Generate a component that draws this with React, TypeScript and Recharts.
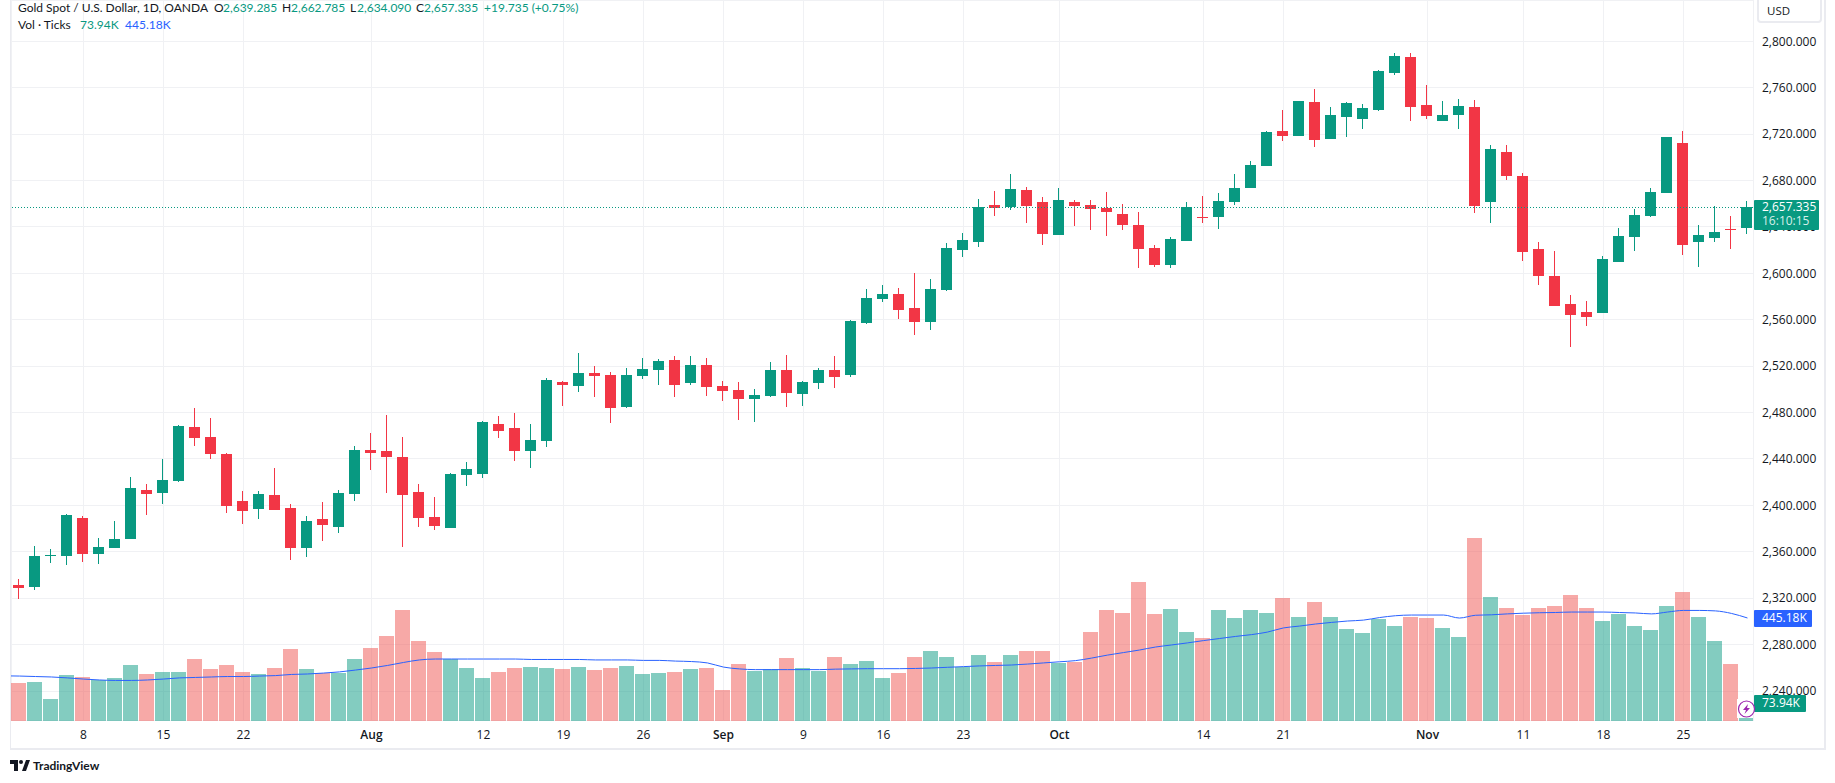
import { Bar, CartesianGrid, ComposedChart, Line, ReferenceLine, XAxis, YAxis } from 'recharts';

// daily candles, 2 Jul - 29 Nov (index = trading day)
const opens = [
  2331.7, 2330, 2357, 2356.7, 2389.4, 2358.4, 2363.6, 2371.3, 2413.6, 2411, 2421, 2467.6, 2458.9, 2444.3, 2404, 2397.2,
  2409.3, 2398, 2363.6, 2388.6, 2381.7, 2409.8, 2447.7, 2446.9, 2441.7, 2411.5, 2390.3, 2380.8, 2426.5, 2427, 2470.3,
  2466.8, 2447, 2455.6, 2506.5, 2503, 2514.3, 2512.5, 2485, 2511.7, 2516.8, 2525.5, 2505.6, 2521.1, 2503, 2499.6,
  2491.8, 2494.4, 2516.8, 2496.1, 2505.6, 2516.8, 2512.5, 2557.4, 2578, 2582.3, 2570.3, 2558.2, 2585.8, 2620.3, 2627.1,
  2658.9, 2657.2, 2671.8, 2661.5, 2633, 2661.5, 2658.9, 2656.3, 2651.1, 2641.7, 2621.8, 2607.2, 2627.9, 2648.6, 2648.6,
  2661.5, 2673.5, 2692.5, 2722.7, 2718.4, 2747.7, 2715.8, 2734.7, 2733, 2740.8, 2772.7, 2786.5, 2745.1, 2731.3, 2736.5,
  2743.4, 2661.5, 2704.6, 2683.9, 2621, 2597.8, 2573.7, 2566.8, 2566, 2609.9, 2631.5, 2649.6, 2669, 2712, 2627.2,
  2630.6, 2638.4, 2639.285,
];
const highs = [
  2336.9, 2365.3, 2362.7, 2392.9, 2391.2, 2372.2, 2386.9, 2424.8, 2418.7, 2440.3, 2469.3, 2484, 2475.3, 2445.1, 2412.7, 2412.7,
  2432.5, 2401.5, 2391.2, 2403.2, 2413.6, 2451.2, 2462.4, 2477.9, 2458.9, 2418.4, 2407.5, 2428.2, 2437.7, 2472.7, 2477.2,
  2479.8, 2470.3, 2510, 2507.4, 2531.5, 2520.3, 2515.1, 2518.6, 2527.2, 2526.3, 2528.9, 2528.9, 2527.2, 2507.4, 2506.5,
  2500.5, 2523.7, 2529.8, 2507.4, 2518.6, 2528.9, 2559.9, 2586.7, 2590.1, 2587.5, 2600.4, 2595.3, 2626.3, 2634.9, 2664.1,
  2671, 2685.6, 2674.4, 2665.8, 2673.5, 2663.2, 2663.2, 2670.1, 2659.8, 2652.9, 2624.4, 2631.3, 2661.5, 2666.7, 2669.2,
  2685.6, 2696.8, 2722.7, 2740.8, 2748.5, 2758.9, 2743.4, 2747.7, 2746, 2775.3, 2789.9, 2789.9, 2762.3, 2748.5, 2750.3,
  2749.4, 2710.6, 2710.6, 2686.5, 2627, 2619.4, 2581.5, 2576.3, 2615.1, 2639.2, 2655.6, 2673.7, 2717.2, 2722.4, 2641.8,
  2658.2, 2649.6, 2662.785,
];
const lows = [
  2319.6, 2327.4, 2350.6, 2348.9, 2351.5, 2349.8, 2363.6, 2371.3, 2392, 2401.5, 2420.2, 2451.2, 2440, 2393.4, 2384.3, 2388.6,
  2396.3, 2353.2, 2355.8, 2369.6, 2376.5, 2403.8, 2430.5, 2410.7, 2364.4, 2381.7, 2379.1, 2380.8, 2417, 2423.6, 2458.2,
  2438.4, 2432.4, 2450.5, 2485.8, 2497.9, 2493.6, 2471.2, 2484.1, 2509.1, 2503.9, 2493.6, 2503.9, 2494.4, 2490.1, 2473.7,
  2472, 2493.6, 2484.9, 2485.8, 2500.5, 2501.3, 2510.8, 2556.5, 2575.4, 2560.8, 2547, 2551.3, 2584.9, 2614.2, 2622.8,
  2649.4, 2654.6, 2643.4, 2624.4, 2633, 2640.8, 2637.4, 2632.2, 2637.3, 2604.6, 2605.5, 2604.6, 2627.9, 2643.4, 2638.2,
  2658.9, 2673.5, 2692.5, 2714.1, 2718.4, 2708.9, 2715.8, 2717.5, 2724.4, 2739.9, 2770.9, 2731.3, 2733, 2731.3, 2724.4,
  2652, 2643.4, 2680.4, 2610.6, 2590, 2572, 2536.6, 2554.7, 2566, 2609.9, 2619.4, 2648.7, 2669, 2616, 2605.6,
  2627.2, 2621.1, 2634.09,
];
const closes = [
  2329.1, 2356.7, 2357.6, 2392, 2358.4, 2364.4, 2371.3, 2415.3, 2410.1, 2422.2, 2468.4, 2458, 2444.3, 2399.5, 2395.5, 2410.1,
  2396.3, 2363.6, 2386.9, 2383.4, 2411, 2447.7, 2445.1, 2441.7, 2408.9, 2389.1, 2382.5, 2427.4, 2431.7, 2471.9, 2464.3,
  2447, 2456.5, 2508.2, 2503.9, 2514.3, 2511.7, 2484.1, 2512.5, 2517.7, 2524.6, 2503.9, 2521.1, 2502.2, 2498.7, 2491.8,
  2495.3, 2516.8, 2497, 2506.5, 2516.8, 2510.8, 2559.1, 2578.9, 2582.3, 2568.6, 2558.2, 2586.7, 2622, 2628.9, 2657.2,
  2656.3, 2672.7, 2658, 2633.9, 2663.2, 2658, 2655.4, 2652.9, 2641.7, 2621, 2607.2, 2629.6, 2657.2, 2647.7, 2662.3,
  2673.5, 2693.4, 2721.8, 2718.4, 2748.5, 2714.9, 2736.5, 2746.8, 2742.5, 2774.4, 2787.3, 2743.4, 2735.6, 2736.5, 2744.2,
  2658, 2707.2, 2683.9, 2618.4, 2597.7, 2572, 2564.2, 2562.5, 2612.5, 2632.3, 2650.4, 2669.8, 2717.2, 2624.6, 2633.2,
  2635.8, 2637.5, 2657.335,
];
// volume in thousands of ticks
const volumes = [
  161, 168, 94, 198, 188, 178, 186, 241, 204, 211, 211, 267, 224, 241, 211, 201, 228, 311, 224, 208, 208, 267, 315, 367,
  480, 345, 297, 267, 228, 184, 210, 227, 231, 227, 223, 231, 218, 227, 236, 201, 205, 210, 223, 227, 132, 245, 214, 223,
  271, 227, 214, 275, 245, 258, 184, 205, 275, 301, 275, 231, 284, 254, 284, 302, 302, 250, 254, 384, 480, 467, 601, 463,
  484, 384, 358, 480, 445, 480, 467, 532, 449, 515, 449, 397, 380, 441, 410, 449, 445, 402, 363, 793, 536, 489, 458, 489,
  497, 545, 489, 432, 463, 410, 393, 497, 558, 449, 345, 245, 73.94,
];
const volumeMA = [
  193, 191, 189, 185, 180, 176, 174, 174, 176, 180, 185, 187, 189, 191, 191, 193, 195, 200, 202, 206, 211, 219, 228, 239,
  252, 263, 267, 267, 267, 267, 267, 267, 265, 265, 265, 265, 263, 263, 263, 261, 261, 258, 256, 250, 232, 224, 221, 221,
  221, 221, 221, 223, 224, 225, 225, 225, 226, 228, 231, 234, 237, 239, 241, 245, 250, 255, 260, 271, 284, 295, 306, 319,
  328, 337, 347, 356, 365, 373, 384, 402, 410, 419, 426, 432, 436, 447, 455, 458, 458, 458, 445, 457, 459, 463, 466, 468,
  469, 471, 471, 471, 469, 467, 463, 471, 478, 478, 476, 465, 445.18,
];
// the average runs in from the session before the first visible bar
const volumeMABefore = 194;

const tickDays = [4, 9, 14, 22, 29, 34, 39, 44, 49, 54, 59, 65, 74, 79, 88, 94, 99, 104];
const tickLabels = ['8', '15', '22', 'Aug', '12', '19', '26', 'Sep', '9', '16', '23', 'Oct', '14', '21', 'Nov', '11', '18', '25'];
const priceTicks = [2240, 2280, 2320, 2360, 2400, 2440, 2480, 2520, 2560, 2600, 2640, 2680, 2720, 2760, 2800];
const lastClose = 2657.335;

const rows = opens.map((open, day) => ({
  day,
  open,
  close: closes[day],
  range: [lows[day], highs[day]],
  volume: volumes[day],
  ma: volumeMA[day],
}));
const lineRows = [{ day: -1, ma: volumeMABefore }, ...rows];

const UP = '#089981';
const DOWN = '#F23645';
const INK = '#131722';
const BORDER = '#EAEBF0';
const FONT = '"Open Sans", sans-serif';
const LEGEND_FONT = 'Lato, sans-serif';

function Candle(props: any) {
  const { x, y, width, height, payload } = props;
  const pxPerUnit = height / (payload.range[1] - payload.range[0]);
  const top = y + (payload.range[1] - Math.max(payload.open, payload.close)) * pxPerUnit;
  const bodyH = Math.max(Math.abs(payload.open - payload.close) * pxPerUnit, 1);
  const color = payload.close >= payload.open ? UP : DOWN;
  const left = Math.round(x);
  return (
    <g shapeRendering="crispEdges">
      <rect x={left + (width - 1) / 2} y={y} width={1} height={height} fill={color} />
      <rect x={left} y={top} width={width} height={bodyH} fill={color} />
    </g>
  );
}

function VolumeBar(props: any) {
  const { x, y, width, height, payload } = props;
  const color = payload.close >= payload.open ? UP : '#EF5350';
  return <rect x={Math.round(x)} y={y} width={width} height={height} fill={color} fillOpacity={0.5} shapeRendering="crispEdges" />;
}

function LastPriceLine(props: any) {
  const { x1, x2, y1 } = props;
  const y = Math.round(y1) + 0.5;
  return <line x1={x1} x2={x2} y1={y} y2={y} stroke={UP} strokeWidth={1} strokeDasharray="1 2" />;
}

function DayTick(props: any) {
  const { x, y, payload } = props;
  const label = tickLabels[tickDays.indexOf(payload.value)];
  const isMonth = label.length === 3;
  return (
    <text x={x} y={y} textAnchor="middle" dy={8} fontSize={12} fontFamily={FONT} fontWeight={isMonth ? 600 : 400} fill={INK}>
      {label}
    </text>
  );
}

function Label({ x, y, color = INK, children }: any) {
  return <span style={{ position: 'absolute', left: x, top: y, color, whiteSpace: 'pre', lineHeight: '16px' }}>{children}</span>;
}

function Tag({ y, w, h, bg, children }: any) {
  return <div style={{ position: 'absolute', left: 1754, top: y, width: w, height: h, background: bg, borderRadius: 1, fontSize: 12, fontFamily: FONT }}>{children}</div>;
}

export default function App() {
  return (
    <div style={{ position: 'absolute', left: 0, top: 0, width: 1835, height: 783, background: '#fff', overflow: 'hidden', fontFamily: LEGEND_FONT, fontSize: 12 }}>
      <ComposedChart width={1835} height={749} data={rows} margin={{ top: 0, right: 0, bottom: 0, left: 11 }}>
        <CartesianGrid xAxisId="main" yAxisId="price" stroke="#F0F1F4" strokeWidth={1} shapeRendering="crispEdges" />
        <XAxis
          xAxisId="main"
          dataKey="day"
          type="number"
          domain={[-0.53, 108.345]}
          allowDataOverflow
          ticks={tickDays}
          interval={0}
          height={28.5}
          axisLine={false}
          tickLine={false}
          tickSize={0}
          tickMargin={10}
          tick={<DayTick />}
        />
        <XAxis xAxisId="candles" dataKey="day" type="number" domain={[-0.53, 108.345]} allowDataOverflow ticks={tickDays} height={0} hide />
        <YAxis
          yAxisId="price"
          orientation="right"
          width={82}
          domain={[2214.6, 2835.6]}
          allowDataOverflow
          ticks={priceTicks}
          interval={0}
          axisLine={false}
          tickLine={false}
          tickSize={0}
          tickMargin={9}
          tick={{ fill: INK, fontSize: 12, fontFamily: FONT, textAnchor: 'start' }}
          tickFormatter={(v: number) => v.toLocaleString('en-US', { minimumFractionDigits: 3 })}
        />
        <YAxis yAxisId="vol" hide domain={[0, 3129]} />
        <ReferenceLine xAxisId="main" yAxisId="price" y={lastClose} shape={<LastPriceLine />} />
        <Bar xAxisId="main" yAxisId="vol" dataKey="volume" barSize={15} shape={<VolumeBar />} isAnimationActive={false} />
        <Line xAxisId="main" yAxisId="vol" data={lineRows} dataKey="ma" type="monotone" stroke="#2962FF" strokeWidth={1} dot={false} isAnimationActive={false} />
        <Bar xAxisId="candles" yAxisId="price" dataKey="range" barSize={11} shape={<Candle />} isAnimationActive={false} />
      </ComposedChart>

      {/* pane frame */}
      <div style={{ position: 'absolute', left: 10, top: 0, width: 1, height: 749, background: BORDER }} />
      <div style={{ position: 'absolute', left: 10, top: 748, width: 1816, height: 2, background: BORDER }} />
      <div style={{ position: 'absolute', left: 1824, top: 0, width: 2, height: 749, background: BORDER }} />

      {/* legend */}
      <Label x={18} y={0}>Gold Spot / U.S. Dollar, 1D, OANDA</Label>
      <Label x={214} y={0}>O</Label>
      <Label x={223} y={0} color={UP}>2,639.285</Label>
      <Label x={282} y={0}>H</Label>
      <Label x={291} y={0} color={UP}>2,662.785</Label>
      <Label x={350} y={0}>L</Label>
      <Label x={357} y={0} color={UP}>2,634.090</Label>
      <Label x={416} y={0}>C</Label>
      <Label x={424} y={0} color={UP}>2,657.335</Label>
      <Label x={484} y={0} color={UP}>+19.735 (+0.75%)</Label>
      <Label x={18} y={17}>Vol · Ticks</Label>
      <Label x={80} y={17} color={UP}>73.94K</Label>
      <Label x={125} y={17} color="#2962FF">445.18K</Label>

      {/* currency button */}
      <div style={{ position: 'absolute', left: 1757, top: -6, width: 61, height: 25, border: `2px solid ${BORDER}`, borderRadius: 4, color: INK, fontSize: 11.5, fontFamily: FONT }}>
        <span style={{ position: 'absolute', left: 8, top: 7 }}>USD</span>
      </div>

      {/* last value tags */}
      <Tag y={200} w={65} h={30} bg={UP}>
        <Label x={8} y={-1} color="#fff">2,657.335</Label>
        <Label x={8} y={13} color="#D5EFEA">16:10:15</Label>
      </Tag>
      <Tag y={610} w={58} h={17} bg="#2962FF">
        <Label x={8} y={0} color="#fff">445.18K</Label>
      </Tag>
      <Tag y={695} w={52} h={17} bg={UP}>
        <Label x={8} y={0} color="#fff">73.94K</Label>
      </Tag>

      {/* alert badge sitting on the last volume bar */}
      <svg width={19} height={19} style={{ position: 'absolute', left: 1737, top: 699 }}>
        <rect x={0} y={0} width={16} height={19} fill="#fff" />
        <circle cx={9.5} cy={10} r={8} fill="#fff" stroke="#9C27B0" strokeWidth={1.2} />
        <path d="M11 5 L6 11 H9 L7.5 15 L13 9 H10 Z" fill="#9C27B0" />
      </svg>

      {/* logo */}
      <svg width={20} height={12} style={{ position: 'absolute', left: 10, top: 760 }}>
        <path d="M0 0 H8 V11 H4 V4 H0 Z M12 11 L16 0 H20 L16 11 Z" fill={INK} />
        <circle cx={11} cy={2} r={2} fill={INK} />
      </svg>
      <span style={{ position: 'absolute', left: 33, top: 757, fontSize: 12, fontWeight: 700, color: INK, lineHeight: '18px' }}>TradingView</span>
    </div>
  );
}
